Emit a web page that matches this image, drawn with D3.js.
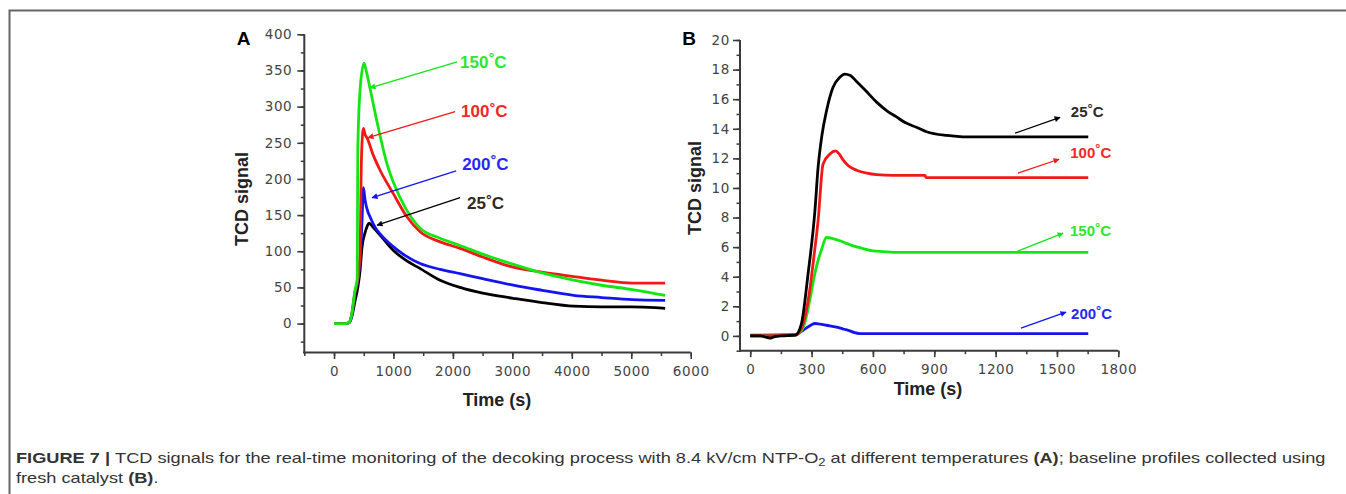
<!DOCTYPE html>
<html><head><meta charset="utf-8">
<script src="https://cdn.jsdelivr.net/npm/d3@7/dist/d3.min.js"></script>
<style>
html,body{margin:0;padding:0;background:#fff;}
svg{display:block;}
</style></head>
<body>
<svg id="c" width="1346" height="494"></svg>
<script>
// ---------- DATA ----------
// Panel A: Time (s) vs TCD signal
const seriesNamesA = ["150°C", "100°C", "200°C", "25°C"];
const a150 = [[0,0],[200,0],[260,2],[300,14],[350,45],[390,62],[395,150],[400,240],[440,325],[505,360],[540,350],[606,325],[718,281],[887,222],[1000,195],[1200,160],[1448,132],[1785,118],[2121,108],[2500,96],[3015,82],[3500,70],[4030,60],[4500,53],[5020,47],[5570,39]];
const a100 = [[0,0],[200,0],[260,2],[300,14],[350,42],[400,62],[440,100],[455,200],[466,240],[495,270],[520,262],[560,256],[650,235],[775,212],[995,180],[1223,148],[1448,127],[1785,113],[2121,104],[2500,92],[3015,78],[3500,71],[4030,65],[4500,60],[5020,56],[5570,56]];
const a200 = [[0,0],[200,0],[250,1],[300,12],[350,40],[400,60],[440,90],[470,140],[495,188],[520,172],[550,160],[620,145],[700,132],[775,124],[1000,106],[1200,94],[1448,83],[1785,75],[2121,69],[2500,62],[3015,53],[3500,46],[4030,39],[4500,36],[5020,33],[5570,32]];
const a25 = [[0,0],[200,0],[250,1],[300,10],[350,30],[400,50],[440,75],[470,105],[520,125],[560,135],[590,139],[650,134],[800,120],[1000,101],[1200,88],[1450,76],[1785,60],[2120,50],[2500,42],[3015,35],[3500,29],[4030,24],[4500,23],[5000,23],[5400,22],[5570,21]];
const xTicksA = [0,1000,2000,3000,4000,5000,6000];
const yTicksA = [0,50,100,150,200,250,300,350,400];
// annotation: [tipT, tipV, tailT, tailV, labelT, labelV]
const annA150 = [606,326,2071,362,2121,354];
const annA100 = [572,257,2037,293,2138,285];
const annA200 = [640,174,2054,211,2155,212];
const annA25  = [724,136,2121,174,2239,158];

// Panel B: baseline profiles
const seriesNamesB = ["25°C", "100°C", "150°C", "200°C"];
const b25 = [[0,0],[50,0],[80,-0.1],[100,-0.15],[120,-0.05],[150,0],[220,0.05],[250,0.8],[283,4.2],[316,8.4],[332,11.4],[350,13.5],[373,15.2],[405,16.8],[440,17.5],[462,17.7],[490,17.6],[520,17.2],[570,16.5],[618,15.8],[670,15.2],[715,14.8],[760,14.4],[813,14.1],[862,13.8],[960,13.55],[1000,13.5],[1060,13.45],[1653,13.45]];
const b100 = [[0,0],[220,0.05],[250,0.5],[290,3],[310,5.2],[332,7.8],[356,11.6],[390,12.3],[417,12.5],[435,12.3],[454,11.9],[480,11.5],[520,11.2],[570,11.0],[618,10.9],[700,10.85],[855,10.85],[860,10.7],[1653,10.7]];
const b150 = [[0,0],[220,0.05],[260,0.6],[291,2.4],[310,3.8],[324,4.7],[348,5.8],[373,6.65],[400,6.6],[454,6.35],[500,6.1],[552,5.9],[600,5.75],[650,5.7],[700,5.65],[1653,5.65]];
const b200 = [[0,0.05],[220,0.08],[260,0.4],[300,0.75],[315,0.84],[340,0.8],[373,0.72],[422,0.6],[460,0.45],[487,0.34],[510,0.22],[536,0.16],[600,0.15],[1653,0.15]];
const xTicksB = [0,300,600,900,1200,1500,1800];
const yTicksB = [0,2,4,6,8,10,12,14,16,18,20];
const annB25  = [1295,13.7,1515,14.77,1568,14.77];
const annB100 = [1309,11.0,1510,11.94,1565,12.05];
const annB150 = [1305,5.72,1530,6.94,1564,6.74];
const annB200 = [1324,0.52,1544,1.6,1569,1.13];

const COL = {green:"#14e614", red:"#f21818", blue:"#1414f0", black:"#000000"};
const LBL = {green:"#2ee62e", red:"#f02828", blue:"#2828f0", black:"#2a2a2a"};

// ---------- DRAW ----------
const svg = d3.select("#c");

// frame
svg.append("path").attr("d","M1346,10.5H9.5V494").attr("fill","none").attr("stroke","#666").attr("stroke-width",2);

const defs = svg.append("defs");
function marker(id, color){
  defs.append("marker").attr("id",id).attr("viewBox","0 0 10 10").attr("refX",9).attr("refY",5)
    .attr("markerWidth",7).attr("markerHeight",6).attr("markerUnits","userSpaceOnUse").attr("orient","auto")
    .append("path").attr("d","M0,0L10,5L0,10Z").attr("fill",color);
}
Object.entries(COL).forEach(([k,c])=>marker("m-"+k,c));

function panel(cfg){
  const g = svg.append("g");
  const x = d3.scaleLinear().domain(cfg.xDom).range(cfg.xRange);
  const y = d3.scaleLinear().domain(cfg.yDom).range(cfg.yRange);
  const axCol = "#3a3a3a";
  const fmt = d3.format("d");
  // minor ticks
  g.append("g").attr("transform",`translate(0,${cfg.yRange[0]})`)
    .call(d3.axisBottom(x).tickValues(cfg.xMinor).tickSize(3.5).tickSizeOuter(0).tickFormat(""))
    .call(s=>{s.select(".domain").remove(); s.selectAll("line").attr("stroke",axCol).attr("stroke-width",1.5);});
  g.append("g").attr("transform",`translate(${cfg.xRange[0]},0)`)
    .call(d3.axisLeft(y).tickValues(cfg.yMinor).tickSize(3.5).tickSizeOuter(0).tickFormat(""))
    .call(s=>{s.select(".domain").remove(); s.selectAll("line").attr("stroke",axCol).attr("stroke-width",1.5);});
  // major
  const gx = g.append("g").attr("transform",`translate(0,${cfg.yRange[0]})`)
    .call(d3.axisBottom(x).tickValues(cfg.xTicks).tickFormat(fmt).tickSize(6.5).tickSizeOuter(0).tickPadding(7));
  const gy = g.append("g").attr("transform",`translate(${cfg.xRange[0]},0)`)
    .call(d3.axisLeft(y).tickValues(cfg.yTicks).tickFormat(fmt).tickSize(7).tickSizeOuter(0).tickPadding(cfg.yPad));
  [gx,gy].forEach(a=>{
    a.select(".domain").attr("stroke",axCol).attr("stroke-width",2);
    a.selectAll(".tick line").attr("stroke",axCol).attr("stroke-width",1.6);
    a.selectAll(".tick text").attr("fill","#444").attr("font-family","DejaVu Sans, sans-serif")
      .attr("font-size","13.5px").attr("letter-spacing","0.6px");
  });
  // extend domains to meet
  gx.select(".domain").attr("d",`M${cfg.xRange[0]-1},0H${cfg.xRange[1]}`);
  gy.select(".domain").attr("d",`M0,${cfg.yRange[0]+1}V${cfg.yRange[1]}`);

  // lines
  const line = d3.line().x(d=>x(d[0])).y(d=>y(d[1])).curve(d3.curveMonotoneX);
  cfg.series.forEach(s=>{
    g.append("path").datum(s.data).attr("d",line).attr("fill","none")
      .attr("stroke",COL[s.color]).attr("stroke-width",cfg.lw).attr("stroke-linejoin","round");
  });
  // annotations
  cfg.ann.forEach(a=>{
    const v=a.v;
    let x1=x(v[0]),y1=y(v[1]),x2=x(v[2]),y2=y(v[3]);
    const p = g.append("line").attr("stroke",COL[a.color]).attr("stroke-width",1.3);
    if(cfg.headAtTip){ p.attr("x1",x2).attr("y1",y2).attr("x2",x1).attr("y2",y1); }
    else { p.attr("x1",x1).attr("y1",y1).attr("x2",x2).attr("y2",y2); }
    p.attr("marker-end",`url(#m-${a.color})`);
    const t = g.append("text").attr("x",x(v[4])).attr("y",y(v[5]))
      .attr("font-family","Liberation Sans, Arial, sans-serif").attr("font-weight","bold")
      .attr("font-size",cfg.annSize+"px").attr("fill",LBL[a.color]);
    const m = a.label.match(/^(\d+)°C$/);
    t.append("tspan").text(m[1]);
    t.append("tspan").attr("dy",-cfg.annSize*0.28).attr("font-size",(cfg.annSize*0.85)+"px").text("°");
    t.append("tspan").attr("dy",cfg.annSize*0.28).text("C");
  });
  // axis titles
  g.append("text").attr("x",cfg.xtPos[0]).attr("y",cfg.xtPos[1]).attr("text-anchor","middle")
    .attr("font-family","Liberation Sans, Arial, sans-serif").attr("font-weight","bold").attr("font-size","18px")
    .attr("fill","#222").text("Time (s)");
  g.append("text").attr("transform",`translate(${cfg.ytPos[0]},${cfg.ytPos[1]}) rotate(-90)`).attr("text-anchor","middle")
    .attr("font-family","Liberation Sans, Arial, sans-serif").attr("font-weight","bold").attr("font-size","18px")
    .attr("fill","#222").text("TCD signal");
  g.append("text").attr("x",cfg.letterPos[0]).attr("y",cfg.letterPos[1]).attr("text-anchor","middle")
    .attr("font-family","Liberation Sans, Arial, sans-serif").attr("font-weight","bold").attr("font-size","19px")
    .attr("fill","#000").text(cfg.letter);
}

panel({
  xDom:[-500,6000], xRange:[304.3,690.7], yDom:[-40,400], yRange:[352.5,34.3],
  xTicks:xTicksA, yTicks:yTicksA, xMinor:d3.range(-500,6001,500), yMinor:d3.range(-25,401,25),
  yPad:5, lw:2.8, headAtTip:true, annSize:17,
  series:[{data:a25,color:"black"},{data:a200,color:"blue"},{data:a100,color:"red"},{data:a150,color:"green"}],
  ann:[{v:annA150,color:"green",label:seriesNamesA[0]},{v:annA100,color:"red",label:seriesNamesA[1]},
       {v:annA200,color:"blue",label:seriesNamesA[2]},{v:annA25,color:"black",label:seriesNamesA[3]}],
  xtPos:[497,406], ytPos:[248,199], letterPos:[243.5,45], letter:"A"
});
panel({
  xDom:[-50,1800], xRange:[740,1118.3], yDom:[-1,20], yRange:[350.7,40],
  xTicks:xTicksB, yTicks:yTicksB, xMinor:d3.range(-150,1801,150).filter(d=>d>-50), yMinor:d3.range(-1,21,1),
  yPad:3, lw:2.8, headAtTip:false, annSize:15,
  series:[{data:b200,color:"blue"},{data:b150,color:"green"},{data:b100,color:"red"},{data:b25,color:"black"}],
  ann:[{v:annB25,color:"black",label:seriesNamesB[0]},{v:annB100,color:"red",label:seriesNamesB[1]},
       {v:annB150,color:"green",label:seriesNamesB[2]},{v:annB200,color:"blue",label:seriesNamesB[3]}],
  xtPos:[928,395], ytPos:[701,188], letterPos:[689,45], letter:"B"
});

// caption
const cap = svg.append("g").attr("font-family","Liberation Sans, Arial, sans-serif").attr("font-size","14px").attr("fill","#333");
const l1 = cap.append("text").attr("x",0).attr("y",0);
l1.append("tspan").attr("font-weight","bold").text("FIGURE 7 | ");
l1.append("tspan").text("TCD signals for the real-time monitoring of the decoking process with 8.4 kV/cm NTP-O");
l1.append("tspan").attr("font-size","10px").attr("dy",3).text("2");
l1.append("tspan").attr("dy",-3).text(" at different temperatures ");
l1.append("tspan").attr("font-weight","bold").text("(A)");
l1.append("tspan").text("; baseline profiles collected using");
const l2 = cap.append("text").attr("x",0).attr("y",0);
l2.append("tspan").text("fresh catalyst ");
l2.append("tspan").attr("font-weight","bold").text("(B)");
l2.append("tspan").text(".");
const w1 = l1.node().getComputedTextLength();
const k = 1311 / w1;
l1.attr("transform",`translate(16,463) scale(${k},1)`);
l2.attr("transform",`translate(16,483) scale(${k},1)`);
</script>
</body></html>
